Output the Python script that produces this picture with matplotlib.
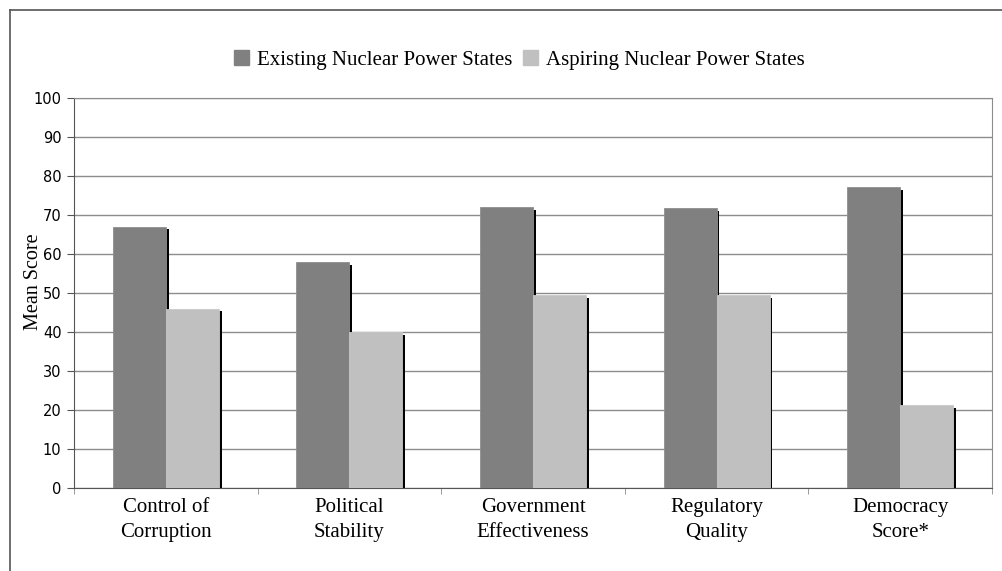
import numpy as np
import matplotlib.pyplot as plt
import matplotlib.patheffects as pe
from matplotlib.lines import Line2D
from matplotlib.patches import Patch

categories = ['Control of\nCorruption', 'Political\nStability', 'Government\nEffectiveness',
              'Regulatory\nQuality', 'Democracy\nScore*']
existing = [67, 58, 72, 71.8, 77.2]
aspiring = [46, 40, 49.5, 49.5, 21.3]
series_names = ['Existing Nuclear Power States', 'Aspiring Nuclear Power States']
colors = ['#808080', '#c0c0c0']

serif = ['Liberation Serif', 'DejaVu Serif']

fig = plt.figure(figsize=(10.03, 5.71), dpi=100)
ax = fig.add_axes([74/1003, 1-488/571, (992-74)/1003, (488-98)/571])

x = np.arange(len(categories))
w = 0.289
shadow = [pe.SimplePatchShadow(offset=(2, -2), shadow_rgbFace='black', alpha=1), pe.Normal()]
b1 = ax.bar(x - w/2, existing, w, color=colors[0], edgecolor='#8e8e8e', linewidth=0.6, zorder=3)
b2 = ax.bar(x + w/2, aspiring, w, color=colors[1], edgecolor='#c8c8c8', linewidth=0.6, zorder=3)
for b in list(b1) + list(b2):
    b.set_path_effects(shadow)

ax.set_xlim(-0.5, len(categories) - 0.5)
ax.set_ylim(0, 100)
ax.set_yticks(range(0, 101, 10))
ax.yaxis.grid(True, color='#8c8c8c', linewidth=1)
ax.set_axisbelow(True)
for s in ax.spines.values():
    s.set_color('#8c8c8c')
ax.spines['bottom'].set_color('#555555')
ax.spines['left'].set_color('#555555')

ax.set_xticks(x)
ax.set_xticklabels(categories, fontfamily=serif, fontsize=15, linespacing=1.45)
ax.set_xticks(np.arange(-0.5, len(categories) + 0.5, 1), minor=True)
ax.tick_params(axis='x', which='major', length=0, pad=7)
ax.tick_params(axis='x', which='minor', length=4, color='#8c8c8c')
ax.tick_params(axis='y', length=5, color='#555555', labelsize=10.5, pad=4)

fig.text(33/1003, 1-282/571, 'Mean Score', rotation=90, ha='center', va='center',
         fontfamily=serif, fontsize=14.5)

handles = [Patch(facecolor=c, edgecolor=c) for c in colors]
fig.legend(handles=handles, labels=series_names, loc='center', bbox_to_anchor=(0.518, 1-60/571),
           ncol=2, frameon=False, prop={'family': serif, 'size': 15}, handlelength=0.7,
           handleheight=0.7, handletextpad=0.4, columnspacing=0.5)

# outer frame (only top and left visible)
fig.add_artist(Line2D([10/1003, 1], [1-10/571, 1-10/571], transform=fig.transFigure,
                      color='#555555', lw=1.2))
fig.add_artist(Line2D([10/1003, 10/1003], [0, 1-10/571], transform=fig.transFigure,
                      color='#555555', lw=1.2))

fig.savefig('out.png', dpi=100)
